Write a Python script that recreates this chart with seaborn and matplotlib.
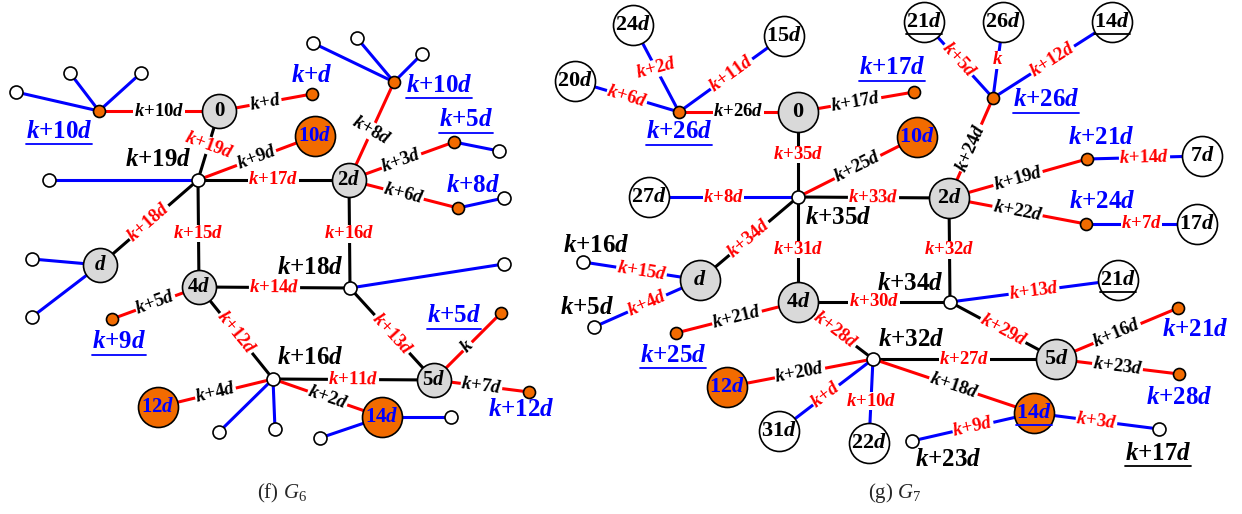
import math
import matplotlib
matplotlib.use('Agg')
import matplotlib.pyplot as plt
import seaborn as sns

# ---------------- G6 ----------------
g6_ids = ['A', 'a1', 'a2', 'a3', 'n0', 'o1', 'n10', 'H1', 'h1l', 'n2', 'B', 'b1', 'b2', 'b3',
          'C', 'c1', 'D', 'd1', 'H2', 'h2l', 'nd', 'dl1', 'dl2', 'n4', 'E', 'H3', 'n12',
          'h3l1', 'h3l2', 'n14', 'l14a', 'l14b', 'n5', 'F', 'G']
g6_x = [99, 16, 70, 141, 219, 312, 315, 198, 49, 349, 394, 313, 357, 422,
        454, 499, 458, 504, 350, 504, 100, 32, 32, 199, 112, 273, 158,
        219, 275, 382, 451, 320, 434, 501, 529]
g6_y = [111, 92, 73, 73, 111, 94, 136, 180, 180, 180, 82, 43, 38, 54,
        142, 151, 208, 198, 288, 264, 265, 259, 317, 287, 319, 379, 407,
        432, 429, 417, 417, 438, 380, 313, 392]
g6_kind = ['dot', 'leaf', 'leaf', 'leaf', 'gray', 'dot', 'orange', 'leaf', 'leaf', 'gray', 'dot', 'leaf', 'leaf', 'leaf',
           'dot', 'leaf', 'dot', 'leaf', 'leaf', 'leaf', 'gray', 'leaf', 'leaf', 'gray', 'dot', 'leaf', 'orange',
           'leaf', 'leaf', 'orange', 'leaf', 'leaf', 'gray', 'dot', 'dot']
g6_name_node = ['n0', 'n10', 'n2', 'nd', 'n4', 'n12', 'n14', 'n5']
g6_name_text = ['0', '10$d$', '2$d$', '$d$', '4$d$', '12$d$', '14$d$', '5$d$']
g6_name_ul = [False] * 8

g6_edge_from = ['A', 'A', 'A', 'A', 'n0', 'n0', 'H1', 'H1', 'H1', 'H1', 'H1', 'n2', 'B', 'B', 'B',
                'n2', 'C', 'n2', 'D', 'n2', 'H2', 'H2', 'H2', 'nd', 'nd', 'n4', 'n4', 'H3', 'H3', 'H3',
                'H3', 'H3', 'n14', 'n14', 'n5', 'n5']
g6_edge_to = ['a1', 'a2', 'a3', 'n0', 'o1', 'H1', 'n10', 'n2', 'h1l', 'nd', 'n4', 'B', 'b1', 'b2', 'b3',
              'C', 'c1', 'D', 'd1', 'H2', 'n4', 'h2l', 'n5', 'dl1', 'dl2', 'E', 'H3', 'n12', 'n5', 'n14',
              'h3l1', 'h3l2', 'l14a', 'l14b', 'F', 'G']
g6_edge_color = ['b', 'b', 'b', 'r', 'r', 'k', 'r', 'k', 'b', 'k', 'k', 'r', 'b', 'b', 'b',
                 'r', 'b', 'r', 'b', 'k', 'k', 'b', 'k', 'b', 'b', 'r', 'k', 'r', 'k', 'r',
                 'b', 'b', 'b', 'b', 'r', 'r']
g6_edge_label = ['', '', '', '$k$+10$d$', '$k$+$d$', '$k$+19$d$', '$k$+9$d$', '$k$+17$d$', '', '$k$+18$d$',
                 '$k$+15$d$', '$k$+8$d$', '', '', '', '$k$+3$d$', '', '$k$+6$d$', '', '$k$+16$d$',
                 '$k$+14$d$', '', '$k$+13$d$', '', '', '$k$+5$d$', '$k$+12$d$', '$k$+4$d$', '$k$+11$d$',
                 '$k$+2$d$', '', '', '', '', '$k$', '$k$+7$d$']

g6_tag_text = ['$k$+10$d$', '$k$+$d$', '$k$+10$d$', '$k$+19$d$', '$k$+5$d$', '$k$+8$d$',
               '$k$+18$d$', '$k$+9$d$', '$k$+16$d$', '$k$+5$d$', '$k$+12$d$']
g6_tag_x = [59, 312, 439, 158, 466, 473, 310, 119, 310, 454, 521]
g6_tag_y = [131, 75, 85, 160, 120, 186, 268, 342, 357, 316, 410]
g6_tag_color = ['blue', 'blue', 'blue', 'black', 'blue', 'blue', 'black', 'blue', 'black', 'blue', 'blue']
g6_tag_ul = [True, False, True, False, True, False, False, True, False, True, False]

# ---------------- G7 ----------------
g7_ids = ['P', 'w24', 'w15', 'w20', 'm0', 'o17', 'Q', 'w27', 'm10', 'm2', 'R', 'w21a', 'w26', 'w14a',
          'S', 'w7', 'T', 'w17', 'md', 'l16', 'l5', 'm4', 'U', 'W', 'w21b', 'V', 'm12', 'w31', 'w22',
          'm5', 'X', 'Y', 'm14', 'l23', 'l17']
g7_x = [679, 633, 784, 575, 798, 914, 798, 649, 917, 949, 993, 924, 1003, 1112,
        1087, 1202, 1086, 1197, 700, 583, 594, 798, 676, 950, 1118, 873, 727, 779, 869,
        1056, 1178, 1179, 1034, 912, 1159]
g7_y = [112, 25, 36, 81, 112, 92, 197, 197, 137, 198, 98, 22, 22, 22,
        159, 156, 224, 224, 280, 262, 327, 302, 333, 302, 280, 359, 387, 431, 443,
        359, 308, 374, 413, 441, 429]
g7_kind = ['dot', 'circle', 'circle', 'circle', 'gray', 'dot', 'leaf', 'circle', 'orange', 'gray', 'dot',
           'circle', 'circle', 'circle', 'dot', 'circle', 'dot', 'circle', 'gray', 'leaf', 'leaf', 'gray',
           'dot', 'leaf', 'circle', 'leaf', 'orange', 'circle', 'circle', 'gray', 'dot', 'dot', 'orange',
           'leaf', 'leaf']
g7_name_node = ['w24', 'w15', 'w20', 'm0', 'w27', 'm10', 'm2', 'w21a', 'w26', 'w14a', 'w7', 'w17',
                'md', 'm4', 'w21b', 'm12', 'w31', 'w22', 'm5', 'm14']
g7_name_text = ['24$d$', '15$d$', '20$d$', '0', '27$d$', '10$d$', '2$d$', '21$d$', '26$d$', '14$d$',
                '7$d$', '17$d$', '$d$', '4$d$', '21$d$', '12$d$', '31$d$', '22$d$', '5$d$', '14$d$']
g7_name_ul = [False, False, False, False, False, False, False, True, False, True,
              False, False, False, False, True, False, False, False, False, True]

g7_edge_from = ['P', 'P', 'P', 'P', 'm0', 'm0', 'Q', 'Q', 'Q', 'Q', 'Q', 'm2', 'R', 'R', 'R',
                'm2', 'S', 'm2', 'T', 'm2', 'W', 'W', 'W', 'md', 'md', 'm4', 'm4', 'V', 'V', 'V',
                'V', 'V', 'm14', 'm14', 'm5', 'm5']
g7_edge_to = ['w20', 'w24', 'w15', 'm0', 'o17', 'Q', 'm10', 'm2', 'w27', 'md', 'm4', 'R', 'w21a', 'w26',
              'w14a', 'S', 'w7', 'T', 'w17', 'W', 'm4', 'w21b', 'm5', 'l16', 'l5', 'U', 'V', 'm12',
              'w31', 'w22', 'm5', 'm14', 'l23', 'l17', 'X', 'Y']
g7_edge_color = ['b', 'b', 'b', 'r', 'r', 'k', 'r', 'k', 'b', 'k', 'k', 'r', 'b', 'b', 'b',
                 'r', 'b', 'r', 'b', 'k', 'k', 'b', 'k', 'b', 'b', 'r', 'k', 'r', 'b', 'b',
                 'k', 'r', 'b', 'b', 'r', 'r']
g7_edge_label = ['$k$+6$d$', '$k$+2$d$', '$k$+11$d$', '$k$+26$d$', '$k$+17$d$', '$k$+35$d$', '$k$+25$d$',
                 '$k$+33$d$', '$k$+8$d$', '$k$+34$d$', '$k$+31$d$', '$k$+24$d$', '$k$+5$d$', '$k$',
                 '$k$+12$d$', '$k$+19$d$', '$k$+14$d$', '$k$+22$d$', '$k$+7$d$', '$k$+32$d$', '$k$+30$d$',
                 '$k$+13$d$', '$k$+29$d$', '$k$+15$d$', '$k$+4$d$', '$k$+21$d$', '$k$+28$d$', '$k$+20$d$',
                 '$k$+$d$', '$k$+10$d$', '$k$+27$d$', '$k$+18$d$', '$k$+9$d$', '$k$+3$d$', '$k$+16$d$',
                 '$k$+23$d$']

g7_tag_text = ['$k$+26$d$', '$k$+17$d$', '$k$+26$d$', '$k$+25$d$', '$k$+21$d$', '$k$+24$d$', '$k$+21$d$',
               '$k$+28$d$', '$k$+35$d$', '$k$+16$d$', '$k$+5$d$', '$k$+34$d$', '$k$+32$d$', '$k$+23$d$',
               '$k$+17$d$']
g7_tag_x = [679, 892, 1046, 673, 1101, 1102, 1195, 1179, 838, 596, 587, 910, 911, 948, 1158]
g7_tag_y = [132, 68, 100, 355, 137, 202, 330, 397, 217, 245, 308, 284, 340, 460, 453]
g7_tag_color = ['blue'] * 8 + ['black'] * 7
g7_tag_ul = [True, True, True, True, False, False, False, False,
             False, False, False, False, False, False, True]

# edge labels that are not drawn along their edge
g6_rot = {('n0', 'H1'): -20, ('H1', 'n4'): 0, ('n2', 'B'): -30, ('n2', 'H2'): 0}
g7_rot = {('m0', 'Q'): 0, ('Q', 'm4'): 0, ('R', 'w26'): 0, ('m2', 'W'): 0, ('V', 'w22'): 0,
          ('P', 'w24'): 15}

sns.set_theme(style='white')
plt.rcParams['font.family'] = ['Liberation Serif', 'DejaVu Serif']
plt.rcParams['font.weight'] = 'bold'
plt.rcParams['mathtext.fontset'] = 'custom'
plt.rcParams['mathtext.it'] = 'Liberation Serif:italic:bold'
plt.rcParams['mathtext.rm'] = 'Liberation Serif:bold'
plt.rcParams['mathtext.sf'] = 'Liberation Serif:italic:normal'
plt.rcParams['mathtext.bf'] = 'Liberation Serif:normal'  # used for the plain subscript in the captions

LINE = {'r': '#ff0000', 'b': '#0000ff', 'k': 'black'}
LABEL = {'r': 'black', 'b': '#ff0000', 'k': '#ff0000'}
ORANGE = '#f26b00'

fig = plt.figure(figsize=(12.42, 5.14), dpi=100)
ax = fig.add_axes([0, 0, 1, 1])
ax.set_xlim(0, 1242)
ax.set_ylim(514, 0)
ax.axis('off')

underlined = []


def draw_graph(ids, xs, ys, kinds, ef, et, ec, el, rot, name_node, name_text, name_ul,
               tag_text, tag_x, tag_y, tag_color, tag_ul, big):
    pos = {n: (x, y) for n, x, y in zip(ids, xs, ys)}
    for a, b, c, lab in zip(ef, et, ec, el):
        (x1, y1), (x2, y2) = pos[a], pos[b]
        ax.plot([x1, x2], [y1, y2], color=LINE[c], lw=2.2, zorder=1, solid_capstyle='butt')
        if lab:
            ang = math.degrees(math.atan2(-(y2 - y1), x2 - x1))
            if ang > 90:
                ang -= 180
            if ang <= -90:
                ang += 180
            ang = rot.get((a, b), ang)
            ax.text((x1 + x2) / 2, (y1 + y2) / 2, lab, color=LABEL[c], fontsize=13.5,
                    rotation=ang, rotation_mode='anchor', ha='center', va='center', zorder=2,
                    bbox=dict(facecolor='white', edgecolor='none', pad=0.3))

    r_big = 20 if big else 17
    sizes = {'leaf': (1.44 * 6.5) ** 2, 'dot': (1.44 * 6) ** 2, 'gray': (1.44 * r_big) ** 2,
             'orange': (1.44 * 20) ** 2, 'circle': (1.44 * 20) ** 2}
    fills = {'leaf': 'white', 'dot': ORANGE, 'gray': '#d9d9d9', 'orange': ORANGE, 'circle': 'white'}
    for kind in ['leaf', 'dot', 'gray', 'orange', 'circle']:
        px = [x for x, k in zip(xs, kinds) if k == kind]
        py = [y for y, k in zip(ys, kinds) if k == kind]
        if px:
            sns.scatterplot(x=px, y=py, s=sizes[kind], color=fills[kind], edgecolor='black',
                            linewidth=1.2, ax=ax, zorder=3, legend=False)

    for n, txt, ul in zip(name_node, name_text, name_ul):
        col = 'blue' if kinds[ids.index(n)] == 'orange' else 'black'
        t = ax.text(pos[n][0], pos[n][1], txt, color=col, fontsize=16 if big else 15,
                    ha='center', va='center', zorder=4)
        if ul:
            underlined.append(t)

    for txt, x, y, col, ul in zip(tag_text, tag_x, tag_y, tag_color, tag_ul):
        t = ax.text(x, y, txt, color=col, fontsize=18, ha='center', va='center', zorder=4)
        if ul:
            underlined.append(t)


draw_graph(g6_ids, g6_x, g6_y, g6_kind, g6_edge_from, g6_edge_to, g6_edge_color, g6_edge_label, g6_rot,
           g6_name_node, g6_name_text, g6_name_ul, g6_tag_text, g6_tag_x, g6_tag_y, g6_tag_color, g6_tag_ul,
           big=False)
draw_graph(g7_ids, g7_x, g7_y, g7_kind, g7_edge_from, g7_edge_to, g7_edge_color, g7_edge_label, g7_rot,
           g7_name_node, g7_name_text, g7_name_ul, g7_tag_text, g7_tag_x, g7_tag_y, g7_tag_color, g7_tag_ul,
           big=True)

ax.text(282, 493, r'(f) $\mathsf{G}_{\mathbf{6}}$', fontsize=15, fontweight='normal', ha='center', va='center')
ax.text(895, 493, r'(g) $\mathsf{G}_{\mathbf{7}}$', fontsize=15, fontweight='normal', ha='center', va='center')

# underline some labels
fig.canvas.draw()
renderer = fig.canvas.get_renderer()
inv = ax.transData.inverted()
for t in underlined:
    bb = t.get_window_extent(renderer)
    (ux0, uy), (ux1, _) = inv.transform([(bb.x0, bb.y0), (bb.x1, bb.y0)])
    ax.plot([ux0, ux1], [uy + 1.5, uy + 1.5], color=t.get_color(), lw=1.3, zorder=4)

plt.savefig('out.png', dpi=100)
